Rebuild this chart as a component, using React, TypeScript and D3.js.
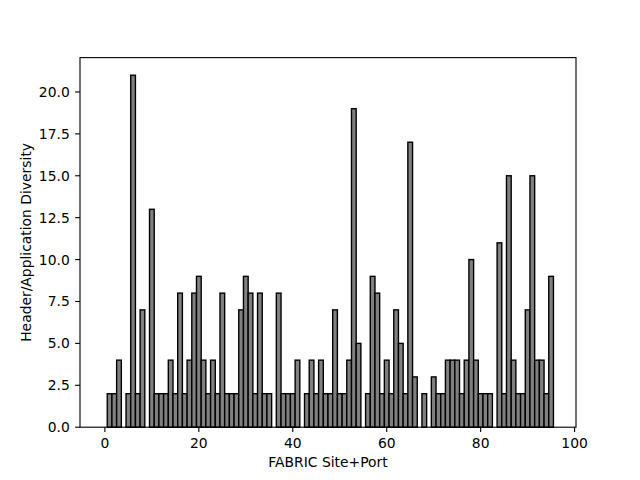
import React from "react";
import * as d3 from "d3";

const siteIndex: number[] = d3.range(0, 96);
const diversity: number[] = [
  0,
  2, 2, 4, 0, 2, 21, 2, 7, 0, 13,
  2, 2, 2, 4, 2, 8, 2, 4, 8, 9,
  4, 2, 4, 2, 8, 2, 2, 2, 7, 9,
  8, 2, 8, 2, 2, 0, 8, 2, 2, 2,
  4, 0, 2, 4, 2, 4, 2, 2, 7, 2,
  2, 4, 19, 5, 0, 2, 9, 8, 2, 4,
  2, 7, 5, 2, 17, 3, 0, 2, 0, 3,
  2, 2, 4, 4, 4, 2, 4, 10, 4, 2,
  2, 2, 0, 11, 2, 15, 4, 2, 2, 7,
  15, 4, 4, 2, 9,
];
const xTicks: number[] = [0, 20, 40, 60, 80, 100];
const yTicks: number[] = [0, 2.5, 5, 7.5, 10, 12.5, 15, 17.5, 20];
const xLabel = "FABRIC Site+Port";
const yLabel = "Header/Application Diversity";

export default function App() {
  const W = 640, H = 480;
  const left = 80, right = 576, top = 57.6, bottom = 427.2;
  const barW = 1;
  const dMin = d3.min(siteIndex)! - barW / 2;
  const dMax = d3.max(siteIndex)! + barW / 2;
  const m = (dMax - dMin) * 0.05;
  const x = d3.scaleLinear().domain([dMin - m, dMax + m]).range([left, right]);
  const yMax = d3.max(diversity)! * 1.05;
  const y = d3.scaleLinear().domain([0, yMax]).range([bottom, top]);
  const font = "DejaVu Sans, sans-serif";
  const fs = 13.89;
  const tickLen = 4.86;
  return (
    <svg width={W} height={H} style={{ position: "absolute", left: 0, top: 0 }} fontFamily={font}>
      <rect x={0} y={0} width={W} height={H} fill="white" />
      <g>
        {siteIndex.map((s, i) => {
          const v = diversity[i];
          if (v <= 0) return null;
          const x0 = x(s - barW / 2);
          const x1 = x(s + barW / 2);
          return (
            <rect
              key={s}
              x={x0}
              y={y(v)}
              width={x1 - x0}
              height={y(0) - y(v)}
              fill="#808080"
              stroke="black"
              strokeWidth={1.39}
            />
          );
        })}
      </g>
      <rect x={left} y={top} width={right - left} height={bottom - top} fill="none" stroke="black" strokeWidth={1.11} />
      {xTicks.map((t) => (
        <g key={"x" + t}>
          <line x1={x(t)} x2={x(t)} y1={bottom} y2={bottom + tickLen} stroke="black" strokeWidth={1.11} />
          <text x={x(t)} y={bottom + 20.5} textAnchor="middle" fontSize={fs} fill="black">
            {t}
          </text>
        </g>
      ))}
      {yTicks.map((t) => (
        <g key={"y" + t}>
          <line x1={left - tickLen} x2={left} y1={y(t)} y2={y(t)} stroke="black" strokeWidth={1.11} />
          <text x={left - 2 * tickLen - 0.5} y={y(t)} dy="0.36em" textAnchor="end" fontSize={fs} fill="black">
            {t.toFixed(1)}
          </text>
        </g>
      ))}
      <text x={(left + right) / 2} y={467} textAnchor="middle" fontSize={fs} fill="black">
        {xLabel}
      </text>
      <text
        transform={`translate(31,${(top + bottom) / 2}) rotate(-90)`}
        textAnchor="middle"
        fontSize={fs}
        fill="black"
      >
        {yLabel}
      </text>
    </svg>
  );
}
